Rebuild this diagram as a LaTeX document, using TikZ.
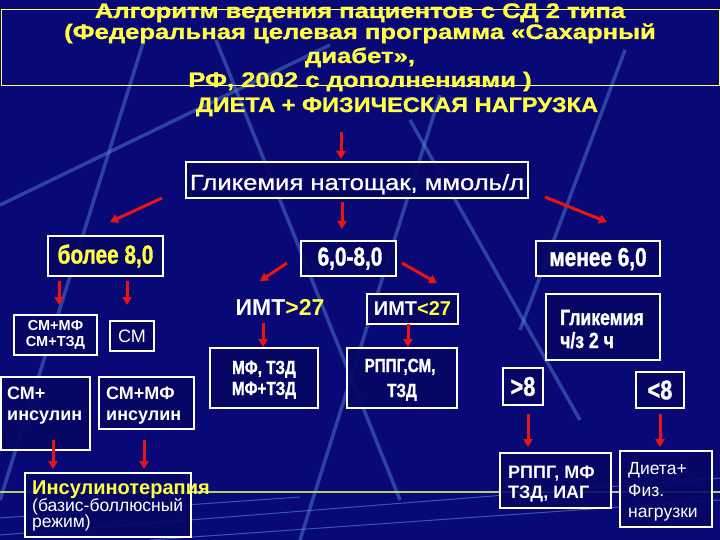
\documentclass[tikz,border=0pt]{standalone}
\usepackage{fontspec}
\setmainfont{Liberation Sans}
\newfontfamily\cond[FakeStretch=0.8,FakeBold=1.2]{Liberation Sans Bold}
\newfontfamily\ttlf[FakeBold=1]{Liberation Sans Bold}
\newfontfamily\medf[FakeBold=0.8]{Liberation Sans}
\usetikzlibrary{arrows.meta}
\definecolor{bg}{RGB}{8,8,118}
\definecolor{bgbox}{RGB}{6,6,100}
\definecolor{ttl}{RGB}{255,255,70}
\definecolor{deco}{RGB}{90,140,215}
\definecolor{grn}{RGB}{175,210,115}
\definecolor{redarr}{RGB}{235,20,20}
\newcommand\wide[2]{\scalebox{#1}[1]{#2}}
\begin{document}
\begin{tikzpicture}[x=1pt,y=-1pt,
  box/.style={draw=white,line width=1.3pt,fill=bgbox,fill opacity=0.9,inner sep=0pt},
  thickbox/.style={box,line width=2.8pt},
  wt/.style={text=white,inner sep=0pt},
  yt/.style={text=ttl,inner sep=0pt},
  decoline/.style={draw=deco,line width=3.5pt,opacity=0.45},
  thinline/.style={draw=deco,line width=1pt,opacity=0.6},
  arr/.style={draw=redarr,line width=3pt,-{Triangle[length=8pt,width=9pt]}},
  ttlfont/.style={font=\fontsize{21}{21}\ttlf}]
% background
\fill[bg] (0,0) rectangle (720,540);
\useasboundingbox (0,0) rectangle (720,540);
% decorative lines
\draw[decoline] (144,40) -- (0,500);
\draw[decoline] (216,40) -- (400,500);
\draw[decoline] (440,95) -- (300,540);
\draw[decoline] (410,120) -- (580,420);
\draw[decoline] (625,50) -- (520,330);
\draw[decoline] (0,205) -- (330,45);
\draw[thinline] (0,535) -- (720,478);
\draw[thinline] (150,540) -- (720,500);
\draw[thinline] (0,518) -- (300,497);
\draw[grn,line width=2.5pt] (0,492) -- (720,492);
% title
\node[yt,ttlfont,anchor=base] (t1) at (360,18) {\wide{1.22}{Алгоритм ведения пациентов с СД 2 типа}};
\node[yt,ttlfont,anchor=base] (t2) at (360,39) {\wide{1.22}{(Федеральная целевая программа «Сахарный}};
\node[yt,ttlfont,anchor=base] (t3) at (360,63) {\wide{1.22}{диабет»,}};
\node[yt,ttlfont,anchor=base] (t4) at (360,87) {\wide{1.22}{РФ, 2002 с дополнениями )}};
\draw[ttl!85!white,line width=1pt] (1,10) rectangle (719,86);
\node[yt,font=\fontsize{21}{21}\ttlf,anchor=base] (diet) at (397,112) {\wide{1.12}{ДИЕТА + ФИЗИЧЕСКАЯ НАГРУЗКА}};
% boxes
\node[box,minimum width=342pt,minimum height=36pt] (glik) at (357,180) {};
\node[wt,font=\fontsize{22}{22}\medf,anchor=base] (glikt) at (357,190) {\wide{1.165}{Гликемия натощак, ммоль/л}};
\node[thickbox,minimum width=115pt,minimum height=40pt] (b8) at (105.5,256) {};
\node[yt,font=\fontsize{26}{26}\cond] (b8t) at (105.5,256) {более 8,0};
\node[box,minimum width=95pt,minimum height=35pt] (m68) at (348.5,258.5) {};
\node[wt,font=\fontsize{26}{26}\cond] (m68t) at (350,258.5) {6,0-8,0};
\node[box,minimum width=124pt,minimum height=35pt] (l6) at (598,258.5) {};
\node[wt,font=\fontsize{26}{26}\cond] (l6t) at (598,259) {менее 6,0};
\node[box,minimum width=83pt,minimum height=40pt] (smmf) at (55.5,335) {};
\node[wt,font=\fontsize{14.5}{16}\selectfont\bfseries,align=center] (smmft) at (55.5,335) {СМ+МФ\\СМ+ТЗД};
\node[box,minimum width=44pt,minimum height=30pt] (sm) at (132,336) {};
\node[wt,font=\fontsize{18}{18}\selectfont] (smt) at (132,336) {СМ};
\node[wt,font=\fontsize{23}{23}\selectfont\bfseries] (imtg) at (280,307) {ИМТ{\color{ttl}>27}};
\node[box,minimum width=91pt,minimum height=30pt] (imtl) at (412.5,309) {};
\node[wt,font=\fontsize{20}{20}\selectfont\bfseries] (imtlt) at (412.5,309) {ИМТ{\color{ttl}<27}};
\node[box,minimum width=114pt,minimum height=66pt] (g2) at (603,327) {};
\node[wt,font=\fontsize{22}{22}\cond,anchor=base west] (g2a) at (560,325) {Гликемия};
\node[wt,font=\fontsize{22}{22}\cond,anchor=base west] (g2b) at (560,348) {ч/з 2 ч};
\node[box,minimum width=108pt,minimum height=60pt] (mft) at (264,378) {};
\node[wt,font=\fontsize{19}{19}\cond,anchor=base] (mfta) at (264,374) {МФ, ТЗД};
\node[wt,font=\fontsize{19}{19}\cond,anchor=base] (mftb) at (264,395) {МФ+ТЗД};
\node[box,minimum width=110pt,minimum height=60pt] (rppg) at (402,378) {};
\node[wt,font=\fontsize{19}{19}\cond,anchor=base] (rppga) at (400,372) {РППГ,СМ,};
\node[wt,font=\fontsize{19}{19}\cond,anchor=base] (rppgb) at (402,397) {ТЗД};
\node[box,minimum width=40pt,minimum height=37pt] (gt8) at (523,386.5) {};
\node[wt,font=\fontsize{27}{27}\cond] (gt8t) at (523,386.5) {>8};
\node[box,minimum width=48pt,minimum height=36pt] (lt8) at (660,390) {};
\node[wt,font=\fontsize{27}{27}\cond] (lt8t) at (660,390) {<8};
\node[box,minimum width=89pt,minimum height=73pt] (smins) at (45.5,413.5) {};
\node[wt,font=\fontsize{18}{18}\selectfont\bfseries,anchor=base west] (sminsa) at (7,399.5) {СМ+};
\node[wt,font=\fontsize{18}{18}\selectfont\bfseries,anchor=base west] (sminsb) at (7,420) {инсулин};
\node[box,minimum width=95pt,minimum height=52pt] (smmfins) at (146.5,403) {};
\node[wt,font=\fontsize{18}{18}\selectfont\bfseries,anchor=base west] (smmfinsa) at (106,399.5) {СМ+МФ};
\node[wt,font=\fontsize{18}{18}\selectfont\bfseries,anchor=base west] (smmfinsb) at (106,420) {инсулин};
\node[thickbox,minimum width=166pt,minimum height=64pt] (ins) at (108,505) {};
\node[yt,font=\fontsize{20}{20}\selectfont\bfseries,anchor=base west] (insa) at (32,494) {Инсулинотерапия};
\node[wt,font=\fontsize{17.5}{17.5}\selectfont,anchor=base west] (insb) at (32,511) {(базис-боллюсный};
\node[wt,font=\fontsize{17.5}{17.5}\selectfont,anchor=base west] (insc) at (32,527) {режим)};
\node[thickbox,minimum width=111pt,minimum height=55pt] (rppg2) at (555.5,480.5) {};
\node[wt,font=\fontsize{18}{18}\selectfont\bfseries,anchor=base west] (rppg2a) at (508,478) {РППГ, МФ};
\node[wt,font=\fontsize{18}{18}\selectfont\bfseries,anchor=base west] (rppg2b) at (508,498) {ТЗД, ИАГ};
\node[thickbox,minimum width=92pt,minimum height=76pt] (dfn) at (666,489) {};
\node[wt,font=\fontsize{17.5}{17.5}\selectfont,anchor=base west] (dfna) at (628,474) {Диета+};
\node[wt,font=\fontsize{17.5}{17.5}\selectfont,anchor=base west] (dfnb) at (628,496) {Физ.};
\node[wt,font=\fontsize{17.5}{17.5}\selectfont,anchor=base west] (dfnc) at (628,517) {нагрузки};
% arrow end points
\coordinate (a0s) at (341,132);  \coordinate (a0e) at (341,159);
\coordinate (a1s) at (162,198);  \coordinate (a1e) at (110,222);
\coordinate (a2s) at (342,202);  \coordinate (a2e) at (342,229);
\coordinate (a3s) at (545,197);  \coordinate (a3e) at (607,222);
\coordinate (a4s) at (287,263);  \coordinate (a4e) at (260,281);
\coordinate (a5s) at (402,263);  \coordinate (a5e) at (437,283);
\coordinate (a6s) at (59,281);   \coordinate (a6e) at (59,305);
\coordinate (a7s) at (127,281);  \coordinate (a7e) at (127,305);
\coordinate (a8s) at (263,323);  \coordinate (a8e) at (263,347);
\coordinate (a9s) at (408,324);  \coordinate (a9e) at (408,347);
\coordinate (a10s) at (53,440);  \coordinate (a10e) at (53,469);
\coordinate (a11s) at (144,440); \coordinate (a11e) at (144,469);
\coordinate (a12s) at (528,414); \coordinate (a12e) at (528,447);
\coordinate (a13s) at (660,414); \coordinate (a13e) at (660,447);
% arrows
\draw[arr] (a0s) -- (a0e);
\draw[arr] (a1s) -- (a1e);
\draw[arr] (a2s) -- (a2e);
\draw[arr] (a3s) -- (a3e);
\draw[arr] (a4s) -- (a4e);
\draw[arr] (a5s) -- (a5e);
\draw[arr] (a6s) -- (a6e);
\draw[arr] (a7s) -- (a7e);
\draw[arr] (a8s) -- (a8e);
\draw[arr] (a9s) -- (a9e);
\draw[arr] (a10s) -- (a10e);
\draw[arr] (a11s) -- (a11e);
\draw[arr] (a12s) -- (a12e);
\draw[arr] (a13s) -- (a13e);
\end{tikzpicture}
\end{document}
